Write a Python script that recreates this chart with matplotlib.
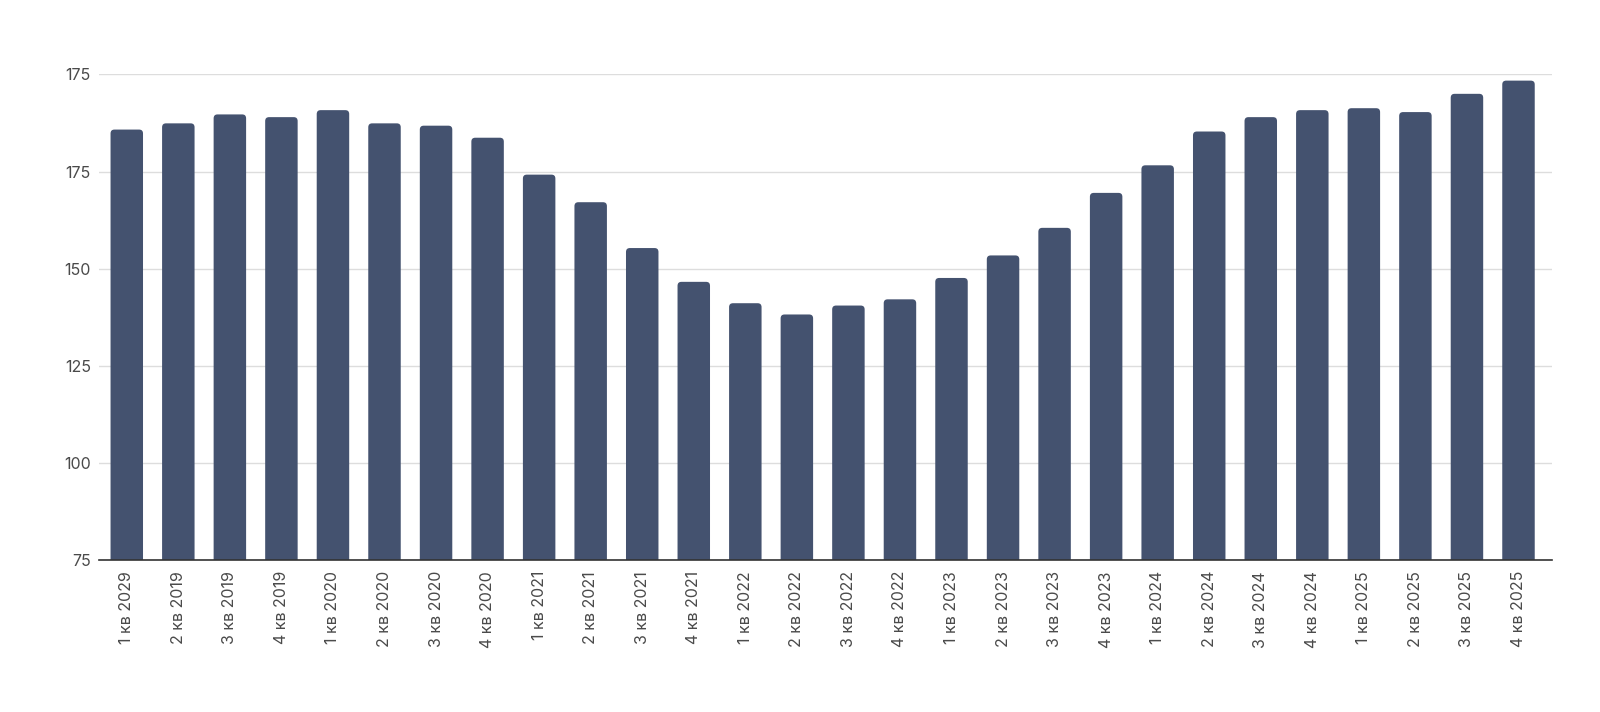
import matplotlib
matplotlib.use("Agg")
import matplotlib.pyplot as plt
from matplotlib.patches import FancyBboxPatch
import numpy as np

plt.rcParams['font.family'] = ['Inter', 'DejaVu Sans']

categories = [
    "1 кв 2029", "2 кв 2019", "3 кв 2019", "4 кв 2019",
    "1 кв 2020", "2 кв 2020", "3 кв 2020", "4 кв 2020",
    "1 кв 2021", "2 кв 2021", "3 кв 2021", "4 кв 2021",
    "1 кв 2022", "2 кв 2022", "3 кв 2022", "4 кв 2022",
    "1 кв 2023", "2 кв 2023", "3 кв 2023", "4 кв 2023",
    "1 кв 2024", "2 кв 2024", "3 кв 2024", "4 кв 2024",
    "1 кв 2025", "2 кв 2025", "3 кв 2025", "4 кв 2025",
]
values = [
    185.8, 187.4, 189.7, 189.0,
    190.8, 187.4, 186.8, 183.7,
    174.2, 167.1, 155.3, 146.6,
    141.1, 138.2, 140.5, 142.1,
    147.6, 153.4, 160.5, 169.5,
    176.6, 185.3, 189.0, 190.8,
    191.3, 190.3, 195.0, 198.4,
]
y_ticks = [75, 100, 125, 150, 175, 200]
y_tick_labels = ["75", "100", "125", "150", "175", "175"]

bar_color = "#44526f"

fig = plt.figure(figsize=(16, 7.12), dpi=100)
ax = fig.add_axes([0.062, 0.2135, 0.908, 0.682])

x = np.arange(len(categories))
bars = ax.bar(x, values, width=0.63, color=bar_color, zorder=3)

ax.set_ylim(75, 200)
ax.set_xlim(-0.535, len(categories) - 1 + 0.65)

# rounded tops: replace each bar by a rounded patch whose bottom lies below the axis
ymin = 75
for b in bars:
    bx, by = b.get_x(), b.get_y()
    w, h = b.get_width(), b.get_height()
    b.set_visible(False)
    r_x = 0.075
    r_y = 1.0
    patch = FancyBboxPatch((bx, ymin - 10), w, by + h - (ymin - 10),
                           boxstyle=f"round,pad=0,rounding_size={r_x}",
                           mutation_aspect=r_y / r_x,
                           facecolor=bar_color, edgecolor="none", zorder=3)
    ax.add_patch(patch)

ax.set_yticks(y_ticks)
ax.set_yticklabels(y_tick_labels)
ax.set_xticks(x)
ax.set_xticklabels(categories, rotation=90, fontsize=11.5, color="#4a4a4a")
ax.tick_params(axis='y', length=0, pad=6, labelsize=11.5, labelcolor="#4a4a4a")
ax.tick_params(axis='x', length=0, pad=8)

ax.grid(axis='y', color="#dddddd", linewidth=1, zorder=0)
for s in ["top", "right", "left"]:
    ax.spines[s].set_visible(False)
ax.spines["bottom"].set_color("#333333")
ax.spines["bottom"].set_linewidth(1.2)
ax.spines["bottom"].set_zorder(4)

fig.savefig("out.png", dpi=100, facecolor="white")
